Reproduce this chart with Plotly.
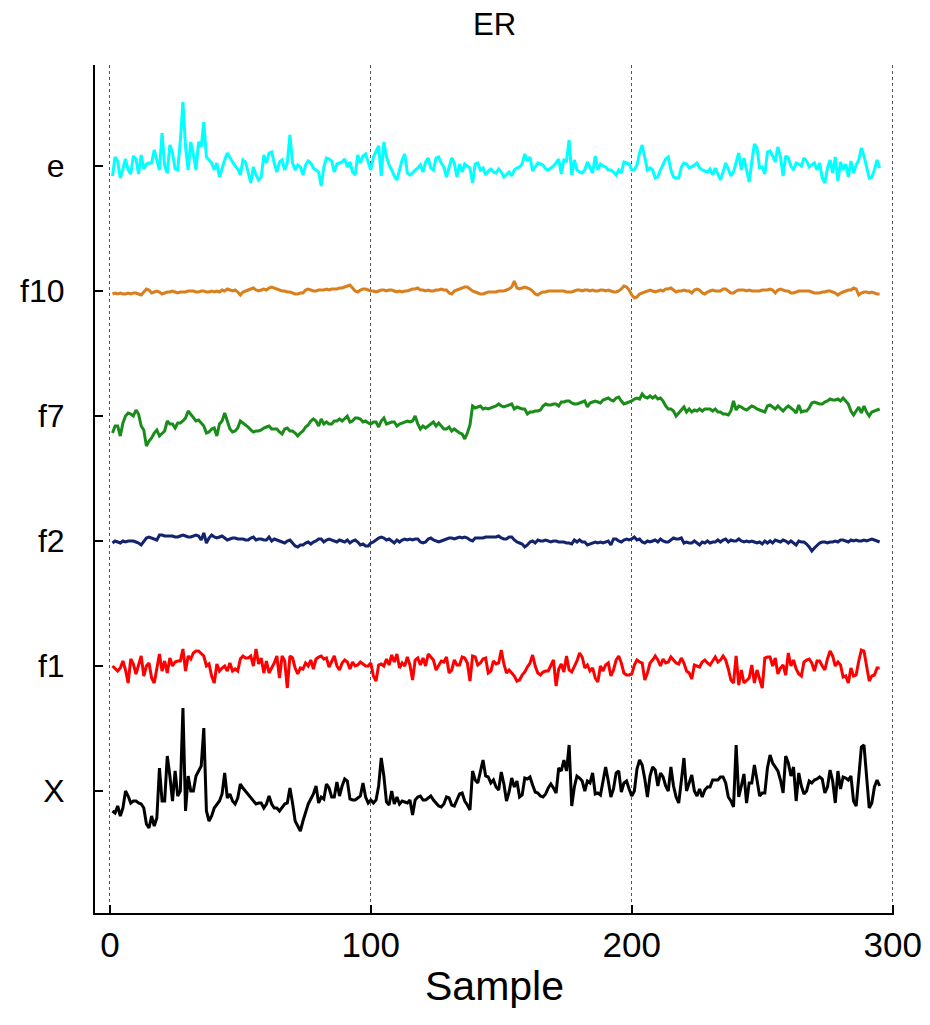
import plotly.graph_objects as go

series_names = ["X", "f1", "f2", "f7", "f10", "e"]
series_offsets = [0, 125, 250, 375, 500, 625]
series_colors = ["#000000", "#FF0000", "#13236E", "#1A8C1A", "#DA7F1E", "#00FFFF"]

e_vals = [
    -10, 9, 5, -12, -3, 7, -4, -8, 10, 7,
    -8, 11, -3, 2, 3, 3, 16, 5, -4, 33,
    0, -7, 21, 13, -3, -4, 25, 64, 19, -4,
    24, 12, -4, 24, 19, 44, 9, 6, 3, -4,
    3, -11, -2, 6, 13, 8, 4, 0, -3, -9,
    6, 4, -7, -17, -1, -9, -14, -11, 11, 3,
    13, 14, 3, -6, 4, 6, -4, 3, 31, 3,
    -4, 1, -1,
    -9, 1, 5, 3, -2, -4, -6, -20, -1, 8,
    7, 5, -6, 2, 3, 4, 7, -1, 4, -6,
    -9, 11, 3, 10, 12, 4, -4, 9, 15, 20,
    -10, 24, 9, 1, -4, -10, -14, -4, 6, 12,
    -7, -9, -7, -4, -2, 1, -6, 4, 8, -2,
    -4, 8, 9, 3, -1, -11, -2, 8, 3, -11,
    2, -6, 2, 0, -2, -17, 2, 3, -4, -2,
    -9, -5, -3, -6,
    -7, -3, -6, -11, -8, -6, -10, -4, -2, -1,
    2, 12, 5, 9, -5, -1, 3, 2, 1, -3,
    -4, -2, 0, 3, 7, -8, 6, 5, 26, -9,
    6, -4, -6, -7, -4, 4, -2, -7, 10, -4,
    2, 0, -1, -4, -4, -6, -9, -4, -7, 4,
    3, 2, -4, -4, 1, 13, 21, 8, -4, -2,
    -4, -12, -11, -4, 2, 7, 9, -4, -11, -12,
    -12, -1, 3, 2, -2,
    -1, 1, 3, -2, -4, -5, -6, -3, -9, -2,
    -8, -14, -6, 3, -3, -10, -6, 3, 13, -4,
    8, -4, -16, 4, 22, 18, -2, -1, -8, 14,
    15, 10, 4, 19, 9, -10, 10, 8, 0, -4,
    3, 2, 0, 8, 5, -1, 1, 3, -4, 3,
    -12, -17, -2, 6, -7, 9, -15, 4, -4, 2,
    -11, 5, -7, 1, 6, 18, 10, -1, -12, -11,
    -4, 6, -2,
]

f10_vals = [
    -3, -2, -3, -2, -3, -3, -2, -3, -2, -2,
    -3, -4, -1, 2, 1, -2, -1, 0, -1, -3,
    -2, -1, -1, 0, -1, -2, -1, -1, -1, 0,
    0, 0, -1, -1, 0, 0, -1, -1, 0, -1,
    0, -1, 1, 0, 2, 1, 0, 1, -1, -4,
    -1, 0, 1, 2, 3, 1, 0, 1, 2, 1,
    3, 4, 3, 2, 1, 0, 0, -1, -1, -2,
    -3, -3, -2,
    -2, 1, 2, 1, 0, 0, 1, 1, 1, 2,
    1, 2, 2, 2, 3, 3, 4, 5, 6, 3,
    0, -1, 1, 2, 2, 1, 0, 0, -1, 0,
    1, 1, 0, 1, 1, 0, -1, 0, -1, 0,
    0, 1, 2, 2, 3, 1, 1, 0, 1, 0,
    0, 1, 1, 2, 1, 1, -2, -3, 0, 1,
    2, 3, 4, 4, 2, 0, -1, -2, -3, -3,
    -2, -1, -1, -1,
    -1, 0, 0, 0, 1, 2, 4, 10, 3, 2,
    3, 4, 3, 2, 0, -3, -4, -2, -1, -1,
    0, 0, 0, 0, 0, 0, 0, -1, -1, -1,
    0, 1, 1, 0, 1, 1, 0, 1, 0, 0,
    1, 1, 0, 1, 0, -1, -1, 0, 2, 5,
    4, 1, -4, -7, -6, -3, -2, -1, 0, 1,
    0, -1, 0, 1, 0, 2, 2, 3, 1, -1,
    0, 0, 1, 0, 0,
    -2, 1, 2, 1, -2, -3, -1, 0, 1, 0,
    0, 0, 2, 2, 0, -2, -2, 0, 1, 1,
    1, 0, 1, 0, 0, 0, 0, 1, 1, 1,
    2, 1, -2, 1, 2, 1, 0, 0, -2, -2,
    -1, 0, 0, 0, 0, 0, -1, -2, -2, -2,
    -1, -1, 0, 0, -1, -2, -4, -2, -1, 0,
    1, 1, 3, 2, -4, -2, -1, -1, -2, -1,
    -2, -3, -3,
]

f7_vals = [
    -17, -10, -10, -20, -7, 0, 3, 2, 0, 6,
    2, -10, -14, -30, -25, -22, -17, -14, -20, -17,
    -15, -5, -8, -8, -12, -7, -7, -5, -2, 5,
    2, -1, -5, -4, -7, -10, -17, -16, -13, -12,
    -20, -8, -5, 3, -5, -13, -16, -15, -12, -5,
    -7, -9, -11, -14, -16, -15, -15, -14, -12, -11,
    -10, -13, -13, -13, -16, -18, -13, -12, -15, -15,
    -17, -20, -17,
    -15, -11, -9, -5, -3, -5, -10, -3, -8, -6,
    -8, -8, -5, -5, -3, -5, -2, 0, -6, -5,
    -2, -2, -3, -6, -5, -7, -8, -6, -6, -11,
    -5, -2, -8, -7, -6, -6, -10, -8, -7, -6,
    -5, -6, -5, 0, -8, -13, -10, -12, -10, -8,
    -6, -10, -7, -10, -13, -13, -11, -15, -13, -15,
    -17, -18, -23, -17, -9, 10, 8, 9, 10, 7,
    8, 7, 8, 9,
    10, 12, 10, 9, 10, 11, 12, 7, 9, 8,
    7, 7, 2, 4, 4, 5, 5, 6, 10, 12,
    11, 11, 12, 12, 10, 14, 14, 15, 15, 13,
    12, 12, 13, 14, 15, 9, 13, 14, 15, 14,
    13, 16, 17, 18, 16, 15, 18, 19, 15, 12,
    13, 14, 15, 17, 18, 17, 22, 19, 18, 20,
    18, 20, 17, 18, 15, 10, 7, 7, 5, 0,
    3, 7, 9, 4, 7,
    4, 6, 5, 7, 5, 7, 7, 7, 5, 7,
    4, 4, 2, 2, 1, 5, 15, 6, 10, 9,
    7, 6, 8, 10, 9, 7, 6, 5, 4, 10,
    11, 9, 7, 10, 7, 5, 8, 10, 8, 6,
    3, 11, 4, 5, 5, 8, 13, 14, 13, 12,
    12, 14, 15, 17, 16, 16, 17, 15, 18, 15,
    12, 5, 1, 5, 9, 3, 10, 4, 0, 4,
    5, 6, 7,
]

f2_vals = [
    -2, 0, -1, -2, 0, -1, 0, 0, 0, -1,
    -2, -4, -1, 3, 4, 3, 2, 1, 6, 6,
    5, 5, 5, 5, 4, 4, 5, 6, 5, 4,
    4, 5, 6, 5, 1, 8, -2, 3, 6, 4,
    3, 4, 5, 3, 1, 2, 3, 3, 2, 2,
    2, 1, 1, 3, 4, 1, 2, 2, 1, 1,
    4, 0, 2, 1, 0, -1, -2, 0, 1, -2,
    -5, -6, -4,
    -4, -2, -1, -3, -1, 0, 2, 2, -1, 1,
    2, 1, 0, -1, 1, 0, -1, 1, -2, 0,
    1, -1, -4, -3, -5, -5, -2, -1, 1, 3,
    4, 3, 1, 2, 0, -2, 1, -1, 1, 2,
    1, 2, 1, 2, 2, -1, -2, -1, 2, 3,
    1, 0, -1, 0, 1, 2, 3, 3, 2, 3,
    4, 3, 4, 3, 1, 0, 3, 3, 3, 3,
    4, 4, 4, 4,
    4, 5, 3, 2, 2, 4, 4, 1, -1, -2,
    -3, -6, -4, -1, 0, -2, 1, 0, 0, 1,
    0, -1, 0, 0, -1, -1, -1, -2, -2, -3,
    1, -1, 1, -1, -1, -4, -3, -2, -1, -2,
    -1, -2, -1, 0, -4, 2, 2, 0, -1, 1,
    2, 1, 2, 4, 1, 2, -1, -2, 0, -1,
    0, 1, -1, 2, 0, -1, -1, 1, 3, 2,
    2, 3, -2, -1, -2,
    -2, 0, -2, -4, -1, -2, 0, -2, -1, -1,
    1, -1, 1, 2, -1, 1, 0, 0, 2, 0,
    -1, 0, -1, 0, -1, -2, -1, -3, 0, -2,
    0, -2, 1, 0, -1, 1, 0, -2, 0, -2,
    -4, 0, -1, -1, -3, -6, -10, -7, -4, -2,
    -1, -1, -2, -1, -1, 0, -1, 1, 1, 0,
    -1, 1, 0, 1, 0, 0, 1, 0, 1, 2,
    1, 0, -1,
]

f1_vals = [
    0, -3, -5, -2, 5, -4, -17, 7, 2, -8,
    2, 10, -10, 0, 3, -12, -17, -1, 12, -5,
    5, -7, 8, 0, 4, 5, 5, 17, -5, 10,
    7, 13, 15, 15, 12, 10, 0, 2, -10, -17,
    2, -5, -2, 0, -5, 3, -5, -3, -5, 7,
    10, 8, 8, 10, 0, 17, 2, 8, -7, 5,
    -7, -2, 3, 10, -12, 10, 5, -22, 10, 8,
    -2, -8, -2,
    -3, 3, 0, 6, -3, 7, 9, 10, 7, 8,
    -1, 4, 10, 0, -4, 3, 6, 4, -3, 4,
    0, 1, 4, 2, 0, 0, 3, -10, -15, 1,
    2, 0, 7, 1, 11, 4, 12, -2, 3, 0,
    9, 1, -14, 6, 8, 1, 8, 0, 12, 9,
    6, -4, 1, 5, 4, 9, -7, -4, 6, 1,
    1, 9, 8, 3, -15, 10, 9, 1, 3, 7,
    8, -7, -5, 5,
    2, 3, 16, 2, -7, -4, -7, -10, -15, -14,
    -9, -6, -1, 3, 11, 0, -7, -9, -6, -5,
    -5, 0, 6, -20, -3, 2, -6, 10, -4, -6,
    -1, 5, 13, 9, -2, 1, -5, -2, -12, -16,
    0, -5, 1, 3, -10, -4, 6, 10, 3, -7,
    -9, -9, -8, 1, 6, 4, 3, -14, -7, 3,
    6, 10, 6, 0, 7, 3, 4, 9, 6, 3,
    2, 8, 3, -5, -7,
    -13, 1, 0, -1, 4, 6, 3, 1, 5, 9,
    4, 6, 10, 6, -3, -14, -17, 10, -19, -4,
    -17, -14, -12, 1, -17, -4, -14, -22, 8, 9,
    9, 0, 8, -8, -2, 1, -9, 13, 0, 6,
    -3, -8, -10, 4, 6, 7, 3, -5, 5, 5,
    0, -4, 7, 15, 10, 0, 4, 1, -11, -10,
    -17, -2, -10, -9, 5, 16, 15, 0, -15, -10,
    -9, -2, -2,
]

X_vals = [
    -20, -22, -15, -25, -17, 0, -5, -12, -10, -10,
    -12, -13, -17, -33, -37, -25, -35, -27, 23, -10,
    -10, 35, 15, -10, 20, -5, 0, 83, -20, 15,
    0, 0, 15, 20, 25, 63, -20, -30, -25, -17,
    -13, -10, -3, 18, -7, -3, -10, -13, -7, 7,
    3, 0, -3, -7, -10, -13, -12, -12, -17, -13,
    -5, -13, -17, -17, -20, -17, -13, -12, 3, -12,
    -30, -35, -40,
    -30, -22, -13, -8, -3, 5, -12, -6, -8, 7,
    3, -6, -6, 9, -5, 5, 12, 10, -8, -9,
    -9, -7, -5, 8, -6, -12, -9, -12, -9, 5,
    33, 15, -11, -14, 0, -13, -6, -13, -10, -11,
    -12, -9, -24, -9, -6, -5, -9, -9, -7, -5,
    -9, -12, -15, -16, -13, -6, -7, -14, -15, -9,
    -3, -2, -10, -14, -19, 20, 11, 8, 20, 31,
    15, 14, 8, 11,
    4, 1, 19, 7, -10, -1, 13, 4, 10, -6,
    -4, 13, 12, 14, 6, -1, -2, -5, -6, -3,
    3, 7, 3, -2, 23, 20, 31, 20, 46, -15,
    4, 15, 13, 10, 0, 10, 8, 18, -3, -2,
    -4, 10, 24, 10, -6, 2, 18, 20, -1, 8,
    10, 2, -5, 0, 22, 31, 26, 12, -6, 15,
    24, 21, 5, 18, 14, 5, 0, 24, 5, -6,
    -12, 10, 33, 0, 8,
    16, 0, -5, 2, -6, 1, 4, 4, 11, 11,
    11, 14, 14, 8, -6, -10, -16, 46, -6, 5,
    17, -12, 8, 8, 26, 11, -5, -2, -2, 23,
    36, 28, 24, 20, 11, -2, 35, 28, 15, 24,
    -10, 18, 5, -3, 0, 10, 8, 11, 12, 14,
    12, -2, 4, 21, 10, -12, 20, 2, 14, 13,
    11, 15, -10, -15, 14, 44, 46, 11, -17, -12,
    4, 11, 5,
]

all_vals = [X_vals, f1_vals, f2_vals, f7_vals, f10_vals, e_vals]
x_ticks = [0, 100, 200, 300]

FONT = "Arial, 'Liberation Sans', sans-serif"

fig = go.Figure()
for name, off, col, vals in zip(series_names, series_offsets, series_colors, all_vals):
    fig.add_trace(go.Scatter(
        x=list(range(1, len(vals) + 1)),
        y=[off + v for v in vals],
        mode="lines",
        line=dict(color=col, width=3),
        name=name,
        showlegend=False,
    ))

fig.update_layout(
    width=930, height=1025,
    margin=dict(l=84, r=44, t=57, b=120),
    paper_bgcolor="white", plot_bgcolor="white",
    font=dict(family=FONT, color="black"),
    title=dict(text="ER", x=0.5, xref="paper", xanchor="center",
               y=1 - 5 / 1025, yanchor="top",
               font=dict(size=31, family=FONT)),
)
fig.update_xaxes(
    range=[-5.7, 300.5],
    tickvals=x_ticks, ticktext=[str(t) for t in x_ticks],
    showgrid=True, gridcolor="#555555", griddash="dot", gridwidth=1,
    zeroline=False,
    showline=True, linecolor="black", linewidth=2,
    ticks="inside", ticklen=8, tickwidth=2, tickcolor="black",
    tickfont=dict(size=35, family=FONT),
    title=dict(text="Sample", font=dict(size=41, family=FONT), standoff=8),
)
fig.update_yaxes(
    range=[-122, 726],
    tickvals=series_offsets, ticktext=series_names,
    showgrid=False, zeroline=False,
    showline=True, linecolor="black", linewidth=2,
    ticks="inside", ticklen=8, tickwidth=2, tickcolor="black",
    tickfont=dict(size=32, family=FONT),
    ticklabelstandoff=22,
)

fig.write_html("out.html")
